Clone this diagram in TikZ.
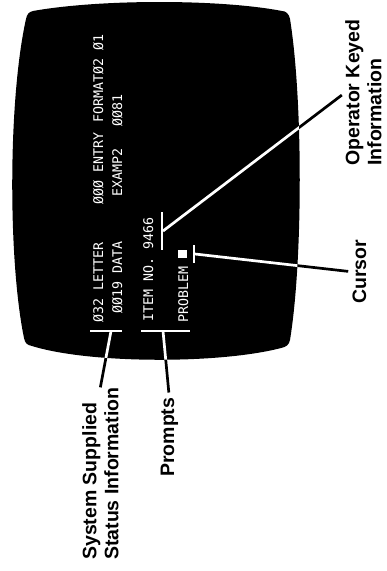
\documentclass[tikz,border=0pt]{standalone}
\usepackage{fontspec}
\setmainfont{Liberation Sans}
\newfontfamily\crtfont{DejaVu Sans Mono}
\usetikzlibrary{positioning}

\newcommand{\crtoutline}{(33,11) .. controls (100,-1) and (220,-1) .. (282,11)
  .. controls (286,11) and (289,14) .. (290,19)
  .. controls (303,100) and (303,260) .. (290,340)
  .. controls (289,345) and (286,347) .. (281,348)
  .. controls (220,364) and (90,364) .. (32,346)
  .. controls (27,345) and (25,343) .. (24,338)
  .. controls (8,260) and (8,100) .. (26,19)
  .. controls (27,14) and (29,12) .. (33,11) -- cycle}

\begin{document}
\begin{tikzpicture}[x=1pt,y=-1pt,
  screentext/.style={white, font=\crtfont\fontsize{13.3}{14}\selectfont, rotate=90, anchor=base west, inner sep=0pt},
  caption/.style={font=\bfseries\fontsize{19.5}{22}\selectfont, rotate=90, inner sep=0pt, align=left},
  leader/.style={line width=2.7pt}]
\useasboundingbox (0,0) rectangle (387,571);
\fill [black] \crtoutline;
\node [screentext] (letter) at (103,323) {Ø32 LETTER};
\node [screentext] (entry) at (103,205) {ØØØ ENTRY};
\node [screentext] (format) at (103,123) {FORMATØ2 Ø1};
\node [screentext] (data) at (122,314) {ØØ19 DATA};
\node [screentext] (examp) at (122,197) {EXAMP2};
\node [screentext] (count) at (122,127) {ØØ81};
\node [screentext] (item) at (153,322) {ITEM NO. 9466};
\node [screentext] (problem) at (188,323) {PROBLEM};
\node [fill=white, inner sep=0pt, minimum width=9pt, minimum height=8pt] (cursorblock) at (182.5,254) {};
\coordinate (sysL) at (90,331);
\coordinate (sysR) at (122,331);
\coordinate (sysM) at (111,331);
\coordinate (prL) at (141,331);
\coordinate (prR) at (190,331);
\coordinate (prM) at (163,331);
\coordinate (opT) at (162,212);
\coordinate (opB) at (162,250);
\coordinate (opM) at (163,231);
\coordinate (curT) at (194,245);
\coordinate (curB) at (194,263);
\coordinate (curM) at (195,254);
\node [caption, anchor=north west] (sysinfo) at (82,560) {System Supplied\\Status Information};
\node [caption, anchor=base west] (prompts) at (174,477) {Prompts};
\node [caption, anchor=north west] (opinfo) at (345,166) {Operator Keyed\\Information};
\node [caption, anchor=base west] (cursor) at (366,304) {Cursor};
\draw [leader] (sysM) -- (sysinfo.east);
\draw [leader, shorten >=5pt] (prM) -- (prompts.east);
\draw [leader, shorten >=4pt] (opM) -- (opinfo.north);
\draw [leader, shorten >=4pt] (curM) -- (cursor.north);
\begin{scope}
\clip \crtoutline;
\draw [leader, white] (sysM) -- (sysinfo.east);
\draw [leader, white, shorten >=5pt] (prM) -- (prompts.east);
\draw [leader, white, shorten >=4pt] (opM) -- (opinfo.north);
\draw [leader, white, shorten >=4pt] (curM) -- (cursor.north);
\end{scope}
\draw [leader, white] (sysL) -- (sysR);
\draw [leader, white] (prL) -- (prR);
\draw [leader, white] (opT) -- (opB);
\draw [leader, white] (curT) -- (curB);
\end{tikzpicture}
\end{document}
